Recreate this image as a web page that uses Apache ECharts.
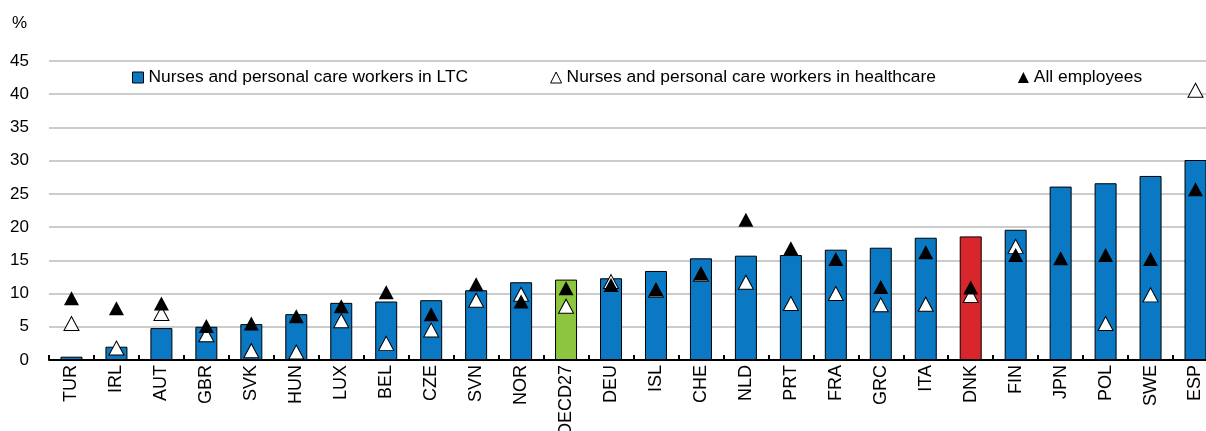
<!DOCTYPE html>
<html>
<head>
<meta charset="utf-8">
<script src="https://cdn.jsdelivr.net/npm/echarts@6/dist/echarts.min.js"></script>
<style>
  html, body { margin: 0; padding: 0; background: #fff; }
  #chart { width: 1206px; height: 431px; }
</style>
</head>
<body>
<div id="chart"></div>
<script>
// pays
const countries = ['TUR', 'IRL', 'AUT', 'GBR', 'SVK', 'HUN', 'LUX', 'BEL', 'CZE', 'SVN', 'NOR', 'OECD27', 'DEU',
  'ISL', 'CHE', 'NLD', 'PRT', 'FRA', 'GRC', 'ITA', 'DNK', 'FIN', 'JPN', 'POL', 'SWE', 'ESP']
// séries
const ltcValues = [0.5, 2.0, 4.8, 5.0, 5.4, 6.9, 8.6, 8.8, 9.0, 10.5, 11.7, 12.1, 12.3,
  13.4, 15.3, 15.7, 15.8, 16.6, 16.9, 18.4, 18.6, 19.6, 26.1, 26.6, 27.7, 30.1]
const healthcareValues = [5.5, 1.8, 7.0, 3.8, 1.4, 1.2, 5.9, 2.5, 4.5, 9.0, 9.9, 8.1, 11.8,
  10.5, 12.9, 11.7, 8.5, 10.0, 8.3, 8.4, 9.7, 17.1, null, 5.5, 9.8, 40.6]
const allEmployeesValues = [9.3, 7.8, 8.5, 5.1, 5.5, 6.6, 8.1, 10.2, 6.9, 11.4, 8.8, 10.8, 11.3,
  10.6, 13.0, 21.1, 16.8, 15.2, 11.0, 16.2, 10.9, 15.8, 15.3, 15.8, 15.2, 25.7]
const seriesNames = ['Nurses and personal care workers in LTC', 'Nurses and personal care workers in healthcare', 'All employees']
const yTicks = [0, 5, 10, 15, 20, 25, 30, 35, 40, 45]

const font = "'Liberation Sans', Arial, sans-serif"
const blue = '#0a78c2'

let chart = echarts.init(document.getElementById('chart'), null, { renderer: 'canvas' })

const barData = ltcValues.map((v, i) => {
  let c = blue
  if (countries[i] === 'OECD27') c = '#8cc63f'
  if (countries[i] === 'DNK') c = '#d9262c'
  return { value: v, itemStyle: { color: c } }
})

chart.setOption({
  animation: false,
  textStyle: { fontFamily: font },
  graphic: [{
    type: 'text', left: 12, top: 15,
    style: { text: '%', font: '17px ' + font, fill: '#000' }
  }],
  legend: {
    left: 132, top: 69,
    padding: 0,
    itemGap: 82,
    itemWidth: 11, itemHeight: 11,
    textStyle: { fontSize: 17.4, color: '#000', fontFamily: font },
    data: [
      { name: seriesNames[0], icon: 'rect', itemStyle: { color: blue, borderColor: '#000', borderWidth: 1 } },
      { name: seriesNames[1], icon: 'triangle', itemStyle: { color: '#fff', borderColor: '#000', borderWidth: 1 } },
      { name: seriesNames[2], icon: 'triangle', itemStyle: { color: '#000' } }
    ]
  },
  // la dernière bande déborde à droite, comme dans l'original
  grid: { left: 49, width: 1169, top: 61, height: 299, containLabel: false, outerBoundsMode: 'none' },
  xAxis: {
    type: 'category',
    data: countries,
    boundaryGap: true,
    axisLine: { lineStyle: { color: '#000', width: 2 } },
    axisTick: { show: true, inside: true, length: 5, lineStyle: { color: '#000', width: 2 } },
    axisLabel: { rotate: 90, fontSize: 18, color: '#000', margin: 5, fontFamily: font, interval: 0 }
  },
  yAxis: {
    type: 'value',
    min: yTicks[0], max: yTicks[yTicks.length - 1], interval: 5,
    axisLine: { show: false },
    axisTick: { show: false },
    axisLabel: { fontSize: 17, color: '#000', margin: 20, fontFamily: font },
    splitLine: { lineStyle: { color: '#cccccc', width: 2 } }
  },
  series: [
    {
      name: seriesNames[0], type: 'bar', data: barData, barWidth: 22,
      itemStyle: { borderColor: '#000', borderWidth: 1 }, z: 2
    },
    {
      name: seriesNames[1], type: 'scatter', data: healthcareValues,
      symbol: 'triangle', symbolSize: [15, 14],
      itemStyle: { color: '#fff', borderColor: '#000', borderWidth: 1, opacity: 1 }, z: 3
    },
    {
      name: seriesNames[2], type: 'scatter', data: allEmployeesValues,
      symbol: 'triangle', symbolSize: [15, 14],
      itemStyle: { color: '#000', opacity: 1 }, z: 4
    }
  ]
})
</script>
</body>
</html>
